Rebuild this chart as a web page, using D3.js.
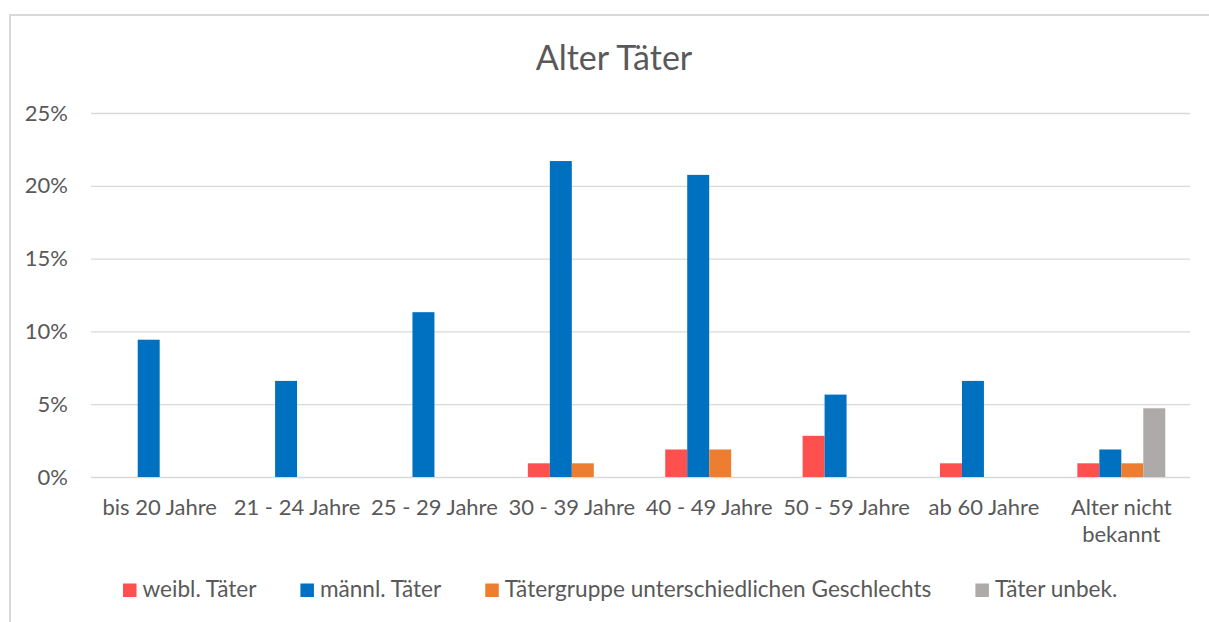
<!DOCTYPE html>
<html>
<head>
<meta charset="utf-8">
<script src="https://cdn.jsdelivr.net/npm/d3@7"></script>
<style>
  body { margin: 0; background: #fff; }
  svg { font-family: Lato, "Liberation Sans", sans-serif; }
</style>
</head>
<body>
<div id="chart"></div>
<script>
'use strict';

// categories and series (share of all offenders, %)
var categories = ["bis 20 Jahre", "21 - 24 Jahre", "25 - 29 Jahre", "30 - 39 Jahre",
  "40 - 49 Jahre", "50 - 59 Jahre", "ab 60 Jahre", "Alter nicht bekannt"];
var seriesNames = ["weibl. Täter", "männl. Täter", "Tätergruppe unterschiedlichen Geschlechts", "Täter unbek."];
var weibl  = [0, 0, 0, 0.94, 1.89, 2.83, 0.94, 0.94];
var maennl = [9.43, 6.6, 11.32, 21.7, 20.75, 5.66, 6.6, 1.89];
var gruppe = [0, 0, 0, 0.94, 1.89, 0, 0, 0.94];
var unbek  = [0, 0, 0, 0, 0, 0, 0, 4.72];
var yTicks = [0, 5, 10, 15, 20, 25];

var seriesValues = [weibl, maennl, gruppe, unbek];
var colors = ["#FF5050", "#0070C0", "#ED7D31", "#AEAAAA"];
var textColor = "#595959";
var gridColor = "#d9d9d9";

var W = 1209, H = 622;
var margin = {top: 113, right: 19, bottom: 145, left: 91};

var svg = d3.select("#chart").append("svg")
  .attr("width", W)
  .attr("height", H);

// chart frame (only top and left edges are visible in the crop)
svg.append("line").attr("x1", 9).attr("x2", W).attr("y1", 15).attr("y2", 15)
  .attr("stroke", gridColor).attr("stroke-width", 2);
svg.append("line").attr("x1", 10).attr("x2", 10).attr("y1", 15).attr("y2", H)
  .attr("stroke", gridColor).attr("stroke-width", 2);

var x0 = d3.scaleBand()
  .domain(categories)
  .range([margin.left, W - margin.right])
  .paddingInner(0.36)
  .paddingOuter(0.18);

var x1 = d3.scaleBand()
  .domain(d3.range(seriesNames.length))
  .range([0, x0.bandwidth()]);

var y = d3.scaleLinear()
  .domain([0, 25])
  .range([H - margin.bottom, margin.top]);

// title
svg.append("text")
  .attr("x", 614).attr("y", 70)
  .attr("text-anchor", "middle")
  .attr("fill", textColor)
  .style("font-size", "34px")
  .text("Alter Täter");

// gridlines + y labels
var yAxis = svg.append("g")
  .attr("transform", "translate(" + margin.left + ",0)")
  .call(d3.axisLeft(y).tickValues(yTicks)
    .tickSize(-(W - margin.left - margin.right))
    .tickPadding(23)
    .tickFormat(function(d) { return d + "%"; }));
yAxis.select(".domain").remove();
yAxis.selectAll(".tick line").attr("stroke", gridColor).attr("stroke-width", 1.3);
yAxis.selectAll(".tick text")
  .attr("fill", textColor)
  .style("font-size", "22px")
  .style("font-family", "Lato, sans-serif");

// bars
var groups = svg.append("g").selectAll("g")
  .data(categories)
  .join("g")
  .attr("transform", function(d) { return "translate(" + x0(d) + ",0)"; });

groups.selectAll("rect")
  .data(function(d, i) {
    return seriesValues.map(function(vals, s) { return {s: s, v: vals[i]}; });
  })
  .join("rect")
  .filter(function(d) { return d.v > 0; })
  .attr("x", function(d) { return x1(d.s); })
  .attr("width", x1.bandwidth())
  .attr("y", function(d) { return y(d.v); })
  .attr("height", function(d) { return y(0) - y(d.v); })
  .attr("fill", function(d) { return colors[d.s]; });

// category labels (wrapped like the original)
var catLines = {"Alter nicht bekannt": ["Alter nicht", "bekannt"]};
var xLabels = svg.append("g").selectAll("text")
  .data(categories)
  .join("text")
  .attr("x", function(d) { return x0(d) + x0.bandwidth() / 2; })
  .attr("y", 515)
  .attr("text-anchor", "middle")
  .attr("fill", textColor)
  .style("font-size", "22px");
xLabels.each(function(d) {
  var lines = catLines[d] || [d];
  var t = d3.select(this);
  lines.forEach(function(l, i) {
    t.append("tspan")
      .attr("x", x0(d) + x0.bandwidth() / 2)
      .attr("dy", i === 0 ? 0 : 27)
      .text(l);
  });
});

// legend
var legend = svg.append("g");
var lx = 123;
seriesNames.forEach(function(name, i) {
  legend.append("rect")
    .attr("x", lx).attr("y", 583.5)
    .attr("width", 13.5).attr("height", 13.5)
    .attr("fill", colors[i]);
  var t = legend.append("text")
    .attr("x", lx + 19.5).attr("y", 597)
    .attr("fill", textColor)
    .style("font-size", "22.6px")
    .text(name);
  lx += 19.5 + t.node().getComputedTextLength() + 44;
});
</script>
</body>
</html>
